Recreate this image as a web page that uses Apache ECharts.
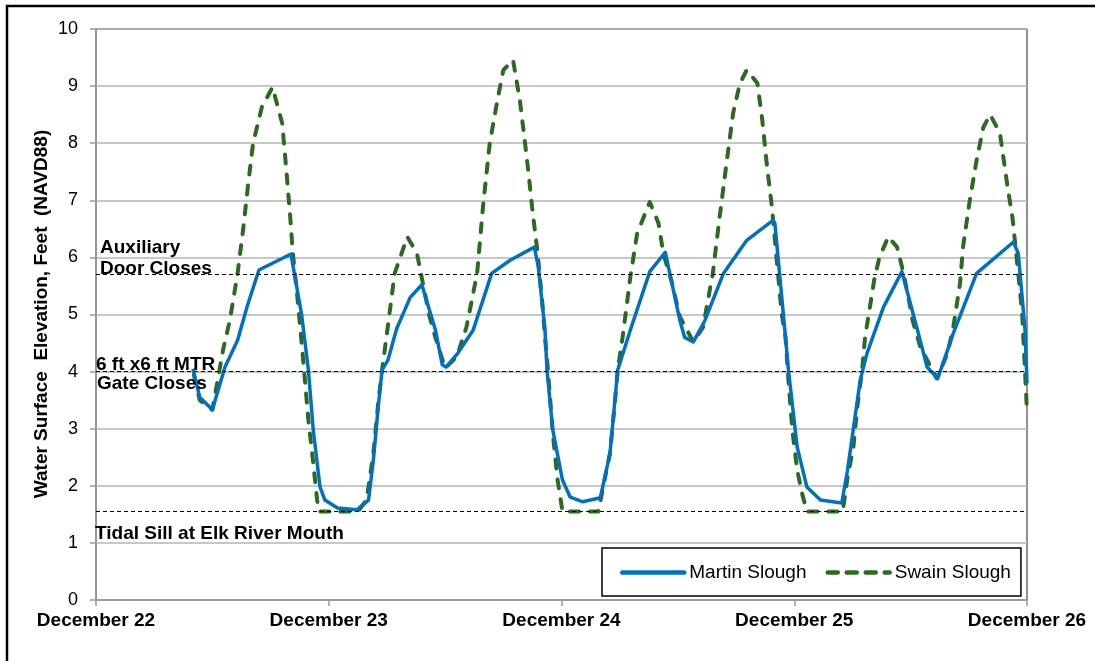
<!DOCTYPE html>
<html>
<head>
<meta charset="utf-8">
<script src="https://cdn.jsdelivr.net/npm/echarts@6/dist/echarts.min.js"></script>
<style>
html,body{margin:0;padding:0;background:#fff;}
#c{width:1095px;height:661px;}
</style>
</head>
<body>
<div id="c"></div>
<script>
// Hours since December 22 00:00
const dayLabels = ['December 22', 'December 23', 'December 24', 'December 25', 'December 26'];
const yTicks = [0, 1, 2, 3, 4, 5, 6, 7, 8, 9, 10];

const martinHours = [10.0, 10.7, 12.0, 13.3, 14.6, 15.6, 16.8, 20.1, 21.2, 21.9, 22.4, 23.1, 23.6, 24.9, 26.9, 28.1, 28.6, 29.1, 29.5, 30.1, 31.0, 32.4, 33.6, 35.0, 35.7, 36.1, 37.3, 38.9, 40.8, 42.7, 45.2, 45.6, 46.3, 46.5, 47.1, 48.1, 48.9, 50.2, 52.0, 53.0, 53.8, 55.1, 57.1, 58.7, 60.2, 60.7, 61.6, 62.8, 64.7, 67.1, 69.8, 70.0, 71.1, 71.4, 72.3, 73.3, 74.7, 76.9, 77.5, 78.8, 79.5, 81.2, 83.1, 84.7, 85.7, 86.8, 88.4, 90.8, 94.6, 95.1, 95.8, 96.0];
const martinValues = [4.05, 3.55, 3.33, 4.08, 4.55, 5.15, 5.78, 6.06, 5.0, 4.03, 2.98, 1.98, 1.75, 1.61, 1.58, 1.75, 2.45, 3.38, 4.03, 4.2, 4.75, 5.3, 5.52, 4.73, 4.12, 4.08, 4.32, 4.73, 5.72, 5.95, 6.18, 5.84, 4.73, 4.03, 2.98, 2.1, 1.8, 1.72, 1.79, 2.57, 4.03, 4.73, 5.75, 6.09, 4.9, 4.6, 4.52, 4.9, 5.72, 6.3, 6.65, 6.6, 4.6, 4.03, 2.68, 1.98, 1.75, 1.7, 2.28, 3.85, 4.32, 5.13, 5.75, 4.73, 4.08, 3.88, 4.67, 5.72, 6.27, 6.07, 4.73, 3.8];

const swainHours = [10.1, 10.7, 12.0, 13.1, 13.8, 14.6, 15.2, 15.7, 16.2, 17.1, 18.2, 19.2, 19.6, 20.0, 20.3, 20.8, 21.3, 21.9, 22.4, 22.8, 23.0, 27.0, 27.9, 28.6, 29.1, 29.5, 30.0, 30.8, 32.1, 33.1, 33.7, 34.4, 35.0, 36.0, 37.2, 38.2, 39.3, 39.9, 40.6, 41.4, 42.0, 43.0, 43.7, 44.2, 44.6, 45.0, 45.5, 46.0, 46.3, 46.6, 47.1, 47.6, 48.1, 51.8, 52.3, 53.0, 53.5, 53.8, 54.3, 55.1, 55.8, 57.1, 58.0, 58.5, 59.4, 60.2, 61.6, 62.6, 63.6, 64.3, 65.1, 65.7, 66.4, 67.1, 68.2, 68.7, 69.2, 69.7, 70.2, 70.7, 71.1, 71.4, 71.8, 72.3, 72.8, 73.3, 77.0, 77.5, 78.1, 78.5, 79.0, 79.3, 80.3, 80.8, 81.7, 82.6, 83.1, 83.7, 84.2, 85.0, 86.7, 87.8, 88.4, 89.1, 89.4, 90.1, 90.8, 91.5, 92.2, 93.2, 93.5, 94.0, 94.5, 95.1, 95.5, 96.0];
const swainValues = [3.94, 3.5, 3.33, 4.38, 4.9, 5.72, 6.53, 7.3, 8.0, 8.63, 8.98, 8.35, 7.58, 6.77, 6.07, 5.25, 4.32, 3.15, 2.4, 1.75, 1.55, 1.55, 1.75, 2.57, 3.45, 4.03, 4.67, 5.72, 6.36, 6.07, 5.55, 4.96, 4.6, 4.06, 4.26, 4.78, 5.72, 6.88, 8.0, 8.76, 9.28, 9.46, 8.76, 8.06, 7.48, 6.83, 6.13, 5.25, 4.6, 4.03, 2.92, 2.1, 1.55, 1.55, 1.98, 2.57, 3.45, 4.03, 4.6, 5.66, 6.42, 6.97, 6.6, 6.07, 5.55, 4.96, 4.52, 4.78, 5.72, 6.7, 7.76, 8.53, 9.05, 9.28, 9.05, 8.41, 7.58, 6.88, 5.95, 5.02, 4.6, 3.85, 2.98, 2.28, 1.87, 1.55, 1.55, 2.15, 2.68, 3.38, 4.03, 4.6, 5.66, 6.01, 6.36, 6.18, 5.84, 5.37, 4.9, 4.43, 3.88, 4.32, 4.78, 5.55, 6.18, 7.0, 7.7, 8.28, 8.5, 8.18, 7.83, 7.23, 6.7, 5.72, 5.02, 3.3];

const refLevels = [5.7, 4.0, 1.55];
const refLabelsAbove = ['Auxiliary\nDoor Closes', '6 ft x6 ft MTR', ''];
const refLabelsBelow = ['', 'Gate Closes', 'Tidal Sill at Elk River Mouth'];
const aboveDist = [[4, -5], [0, -4], [0, 0]];
const belowDist = [[0, 0], [1, 2], [-1, 12]];

function pairs(xs, ys) { return xs.map((x, i) => [x, ys[i]]); }

const FONT = 'Liberation Sans, Arial, sans-serif';
const lblStyle = { color: '#000', fontFamily: FONT, fontWeight: 'bold', fontSize: 19, lineHeight: 21 };
const markData = [];
refLevels.forEach((v, i) => {
  markData.push({ yAxis: v, label: Object.assign({ show: !!refLabelsAbove[i], formatter: refLabelsAbove[i], position: 'insideStartTop', distance: aboveDist[i] }, lblStyle) });
  if (refLabelsBelow[i]) {
    markData.push({ yAxis: v, label: Object.assign({ show: true, formatter: refLabelsBelow[i], position: 'insideStartBottom', distance: belowDist[i] }, lblStyle) });
  }
});

const BLUE = '#0070C0';
const GREEN = '#2B6A1F';

const chart = echarts.init(document.getElementById('c'), null, { renderer: 'canvas' });
chart.setOption({
  animation: false,
  backgroundColor: '#fff',
  grid: { left: 96, top: 29, right: 68, bottom: 61, show: true, borderColor: '#222', borderWidth: 1, backgroundColor: 'transparent' },
  graphic: [
    { type: 'rect', shape: { x: 7, y: 6, width: 1200, height: 800 }, style: { fill: 'none', stroke: '#000', lineWidth: 2.5 }, silent: true },
    { type: 'text', x: 42, y: 314, rotation: Math.PI / 2, style: { text: 'Water Surface  Elevation, Feet  (NAVD88)', fill: '#000', font: 'bold 19px "Liberation Sans", Arial, sans-serif', align: 'center', verticalAlign: 'middle' } }
  ],
  xAxis: {
    type: 'value', min: 0, max: 96, interval: 24,
    axisLine: { show: true, lineStyle: { color: '#999', width: 1.5 } },
    axisTick: { show: true, length: 6, lineStyle: { color: '#999', width: 1.5 } },
    splitLine: { show: false },
    axisLabel: { formatter: v => dayLabels[Math.round(v / 24)], color: '#000', fontFamily: FONT, fontWeight: 'bold', fontSize: 19, margin: 11 }
  },
  yAxis: {
    type: 'value', min: yTicks[0], max: yTicks[yTicks.length - 1], interval: 1,
    axisLine: { show: true, lineStyle: { color: '#999', width: 1.5 } },
    axisTick: { show: true, length: 6, lineStyle: { color: '#999', width: 1.5 } },
    splitLine: { show: true, lineStyle: { color: '#b4b4b4', width: 1.5 } },
    axisLabel: { color: '#000', fontFamily: FONT, fontSize: 18, margin: 18 }
  },
  legend: {
    left: 602, top: 548, orient: 'horizontal',
    padding: [15, 10, 14, 18], itemGap: 19, itemWidth: 62, itemHeight: 14,
    borderColor: '#000', borderWidth: 1.5, backgroundColor: '#fff',
    itemStyle: { opacity: 0 },
    textStyle: { color: '#000', fontFamily: FONT, fontSize: 19 },
    data: [
      { name: 'Martin Slough', lineStyle: { color: BLUE, width: 4.5, cap: 'round' } },
      { name: 'Swain Slough', lineStyle: { color: GREEN, width: 4.5, type: [10, 9], cap: 'round' } }
    ]
  },
  series: [
    {
      name: 'Martin Slough', type: 'line', data: pairs(martinHours, martinValues),
      symbol: 'none', smooth: false, color: BLUE,
      lineStyle: { color: BLUE, width: 3.5, join: 'round' },
      z: 3,
      markLine: {
        silent: true, symbol: 'none',
        lineStyle: { color: '#000', type: [4, 3], width: 1 },
        data: markData
      }
    },
    {
      name: 'Swain Slough', type: 'line', data: pairs(swainHours, swainValues),
      symbol: 'none', smooth: false, color: GREEN,
      lineStyle: { color: GREEN, width: 4, type: [9, 11], cap: 'round', join: 'round' },
      z: 2
    }
  ]
});
</script>
</body>
</html>
